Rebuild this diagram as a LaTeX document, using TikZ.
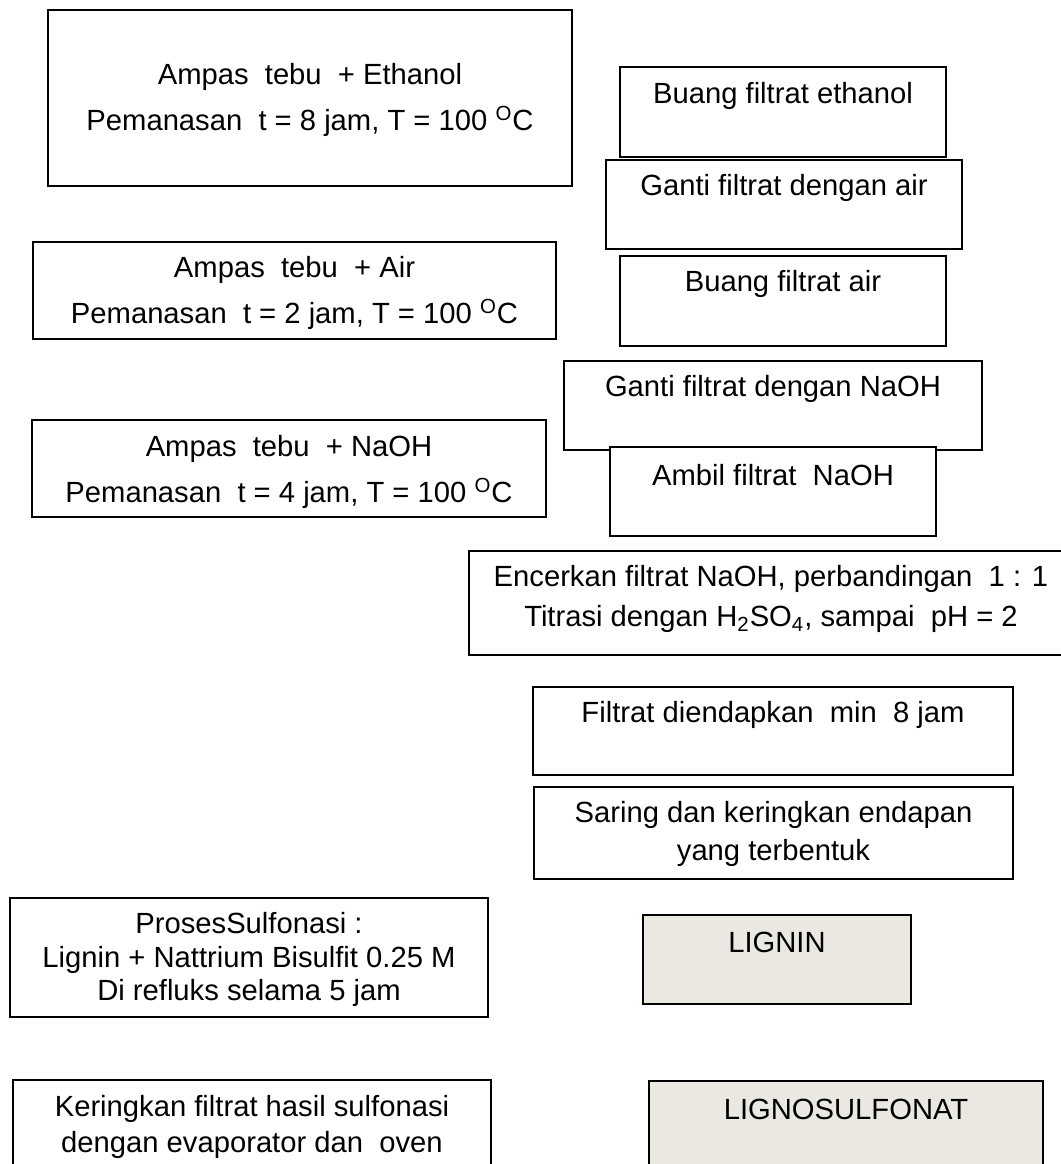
\documentclass[tikz,border=0pt]{standalone}
\usepackage{fontspec}
\setmainfont{Liberation Sans}
\usepackage{xcolor}
\usetikzlibrary{positioning}
\definecolor{hasilfill}{HTML}{EBE8E1}

\begin{document}
\begin{tikzpicture}[x=0.5pt, y=-0.5pt,
    box/.style={draw, rectangle, line width=1pt, fill=white, inner sep=0pt},
    hasil/.style={box, fill=hasilfill},
    txt/.style={inner sep=0pt, align=center, font=\fontsize{14.6}{23}\selectfont}]
    \useasboundingbox (0,0) rectangle (1061,1164);

    \node [box, minimum width=262pt, minimum height=88pt] (ethanol) at (310,98) {};
    \node [txt] (ethanoltxt) at (310,100) {Ampas~~tebu~~+ Ethanol\\Pemanasan~~t = 8 jam, T = 100 \textsuperscript{O}C};

    \node [box, minimum width=163pt, minimum height=45pt] (bethanol) at (783,112) {};
    \node [txt] (bethanoltxt) at (783,96) {Buang filtrat ethanol};

    \node [box, minimum width=178pt, minimum height=44.5pt] (gair) at (784,204.5) {};
    \node [txt] (gairtxt) at (784,188) {Ganti filtrat dengan air};

    \node [box, minimum width=261.5pt, minimum height=48.5pt] (air) at (294.5,290.5) {};
    \node [txt] (airtxt) at (294.5,293) {Ampas~~tebu~~+ Air\\Pemanasan~~t = 2 jam, T = 100 \textsuperscript{O}C};

    \node [box, minimum width=163pt, minimum height=45pt] (bair) at (783,301) {};
    \node [txt] (bairtxt) at (783,284) {Buang filtrat air};

    \node [box, minimum width=209pt, minimum height=44.5pt] (gnaoh) at (773,405.5) {};
    \node [txt] (gnaohtxt) at (773,389) {Ganti filtrat dengan NaOH};

    \node [box, minimum width=163pt, minimum height=44.5pt] (ambil) at (773,491.5) {};
    \node [txt] (ambiltxt) at (773,475) {Ambil filtrat~~NaOH};

    \node [box, minimum width=257pt, minimum height=48.5pt] (naoh) at (289,468.5) {};
    \node [txt] (naohtxt) at (289,472) {Ampas~~tebu~~+ NaOH\\Pemanasan~~t = 4 jam, T = 100 \textsuperscript{O}C};

    \node [box, minimum width=303pt, minimum height=51.75pt] (encer) at (772,602.75) {};
    \node [txt, font=\fontsize{14.6}{20.25}\selectfont] (encertxt) at (771,599) {Encerkan filtrat NaOH, perbandingan~~1 : 1\\Titrasi dengan H\textsubscript{2}SO\textsubscript{4}, sampai~~pH = 2};

    \node [box, minimum width=240pt, minimum height=44.25pt] (endap) at (773,731) {};
    \node [txt] (endaptxt) at (773,715) {Filtrat diendapkan~~min~~8 jam};

    \node [box, minimum width=239.5pt, minimum height=46pt] (saring) at (773.5,833) {};
    \node [txt, font=\fontsize{14.6}{19.25}\selectfont] (saringtxt) at (773.5,834) {Saring dan keringkan endapan\\yang terbentuk};

    \node [box, minimum width=239pt, minimum height=59.5pt] (sulfonasi) at (249,957.5) {};
    \node [txt, font=\fontsize{14.6}{16.75}\selectfont] (sulfonasitxt) at (249,959.5) {ProsesSulfonasi :\\Lignin + Nattrium Bisulfit 0.25 M\\Di refluks selama 5 jam};

    \node [hasil, minimum width=134pt, minimum height=44.5pt] (lignin) at (777,959) {};
    \node [txt] (lignintxt) at (777,942.5) {LIGNIN};

    \node [box, minimum width=239pt, minimum height=55pt] (kering) at (252,1135) {};
    \node [txt, font=\fontsize{14.6}{18}\selectfont] (keringtxt) at (252,1127) {Keringkan filtrat hasil sulfonasi\\dengan evaporator dan~~oven};

    \node [hasil, minimum width=197pt, minimum height=54.5pt] (lignosulfonat) at (846,1135.5) {};
    \node [txt] (lignosulfonattxt) at (846,1109) {LIGNOSULFONAT};
\end{tikzpicture}
\end{document}
